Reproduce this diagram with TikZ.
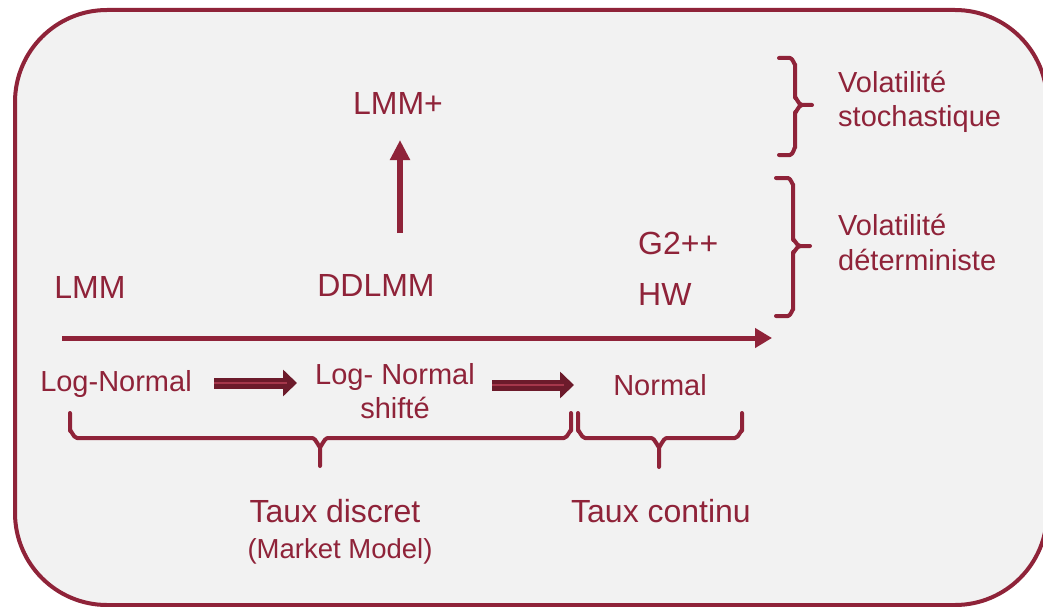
\documentclass[tikz,border=0pt]{standalone}
\usepackage{fontspec}
\setmainfont{Liberation Sans}
\usetikzlibrary{arrows.meta}
\definecolor{maroon}{RGB}{143,35,57}
\definecolor{darkmaroon}{RGB}{108,27,43}
\definecolor{lightmaroon}{RGB}{165,55,75}
\definecolor{bg}{RGB}{242,242,242}
\begin{document}
\begin{tikzpicture}[x=1pt,y=-1pt,
  txt/.style={text=maroon, font=\fontsize{29}{33}\selectfont, inner sep=0pt, anchor=base},
  big/.style={txt, font=\fontsize{32}{36}\selectfont},
  ltxt/.style={txt, anchor=base west},
  lbig/.style={big, anchor=base west},
  small/.style={txt, font=\fontsize{27.5}{31}\selectfont},
  brace/.style={draw=maroon, line width=4, line cap=round, line join=round},
  axis/.style={draw=maroon, line width=5, -{Triangle[length=17pt, width=19pt]}},
  uparrow/.style={draw=maroon, line width=6, -{Triangle[length=20pt, width=19pt]}},
  fatarrow/.style={draw=darkmaroon, line width=11, -{Triangle[length=14pt, width=26pt]}},
  stripe/.style={draw=lightmaroon, line width=2}]
\useasboundingbox (0,0) rectangle (1043,607);
\draw[maroon, line width=4, fill=bg, rounded corners=92] (15,10) rectangle (1047,605);

% texts
\node[big] (lmmplus) at (398,114) {LMM+};
\node[big] (lmm) at (90,298) {LMM};
\node[big] (ddlmm) at (376,296) {DDLMM};
\node[lbig] (g2) at (638,254) {G2++};
\node[lbig] (hw) at (638,305) {HW};
\node[txt] (lognormal) at (116,391) {Log-Normal};
\node[txt] (lnshift1) at (395,384) {Log- Normal};
\node[txt] (lnshift2) at (395,418) {shifté};
\node[txt] (normal) at (660,395) {Normal};
\node[big] (tdiscret) at (335,522) {Taux discret};
\node[small] (market) at (340,558) {(Market Model)};
\node[big] (tcontinu) at (661,522) {Taux continu};
\node[ltxt] (vs1) at (838,93) {Volatilité};
\node[ltxt] (vs2) at (838,127) {stochastique};
\node[ltxt] (vd1) at (838,235) {Volatilité};
\node[ltxt] (vd2) at (838,270) {déterministe};

% arrows
\coordinate (ua) at (400,233);
\coordinate (ub) at (400,140);
\draw[uparrow] (ua) -- (ub);
\coordinate (ha) at (62,338);
\coordinate (hb) at (772,338);
\draw[axis] (ha) -- (hb);

\coordinate (d1a) at (214,383);
\coordinate (d1b) at (297,383);
\coordinate (d1s) at (287,383);
\draw[fatarrow] (d1a) -- (d1b);
\draw[stripe] (d1a) -- (d1s);
\coordinate (d2a) at (492,385);
\coordinate (d2b) at (574,385);
\coordinate (d2s) at (564,385);
\draw[fatarrow] (d2a) -- (d2b);
\draw[stripe] (d2a) -- (d2s);

% bottom braces
\draw[brace] (70,413) -- (70,431) to[out=90,in=180] (77,438) -- (312,438)
  to[out=0,in=-90] (320,446) -- (320,466);
\draw[brace] (320,446) to[out=-90,in=180] (328,438) -- (564,438)
  to[out=0,in=90] (571,431) -- (571,413);
\draw[brace] (578,413) -- (578,431) to[out=90,in=180] (585,438) -- (651,438)
  to[out=0,in=-90] (659,446) -- (659,467);
\draw[brace] (659,446) to[out=-90,in=180] (667,438) -- (735,438)
  to[out=0,in=90] (742,431) -- (742,413);

% right braces
\draw[brace] (779,58) -- (790,58) to[out=0,in=-90] (795,64) -- (795,98)
  to[out=90,in=180] (802,105) -- (812,105);
\draw[brace] (802,105) to[out=180,in=-90] (795,112) -- (795,148)
  to[out=90,in=0] (790,155) -- (779,155);
\draw[brace] (776,178) -- (788,178) to[out=0,in=-90] (793,184) -- (793,240)
  to[out=90,in=180] (800,246) -- (810,246);
\draw[brace] (800,246) to[out=180,in=-90] (793,252) -- (793,310)
  to[out=90,in=0] (788,316) -- (776,316);
\end{tikzpicture}
\end{document}
